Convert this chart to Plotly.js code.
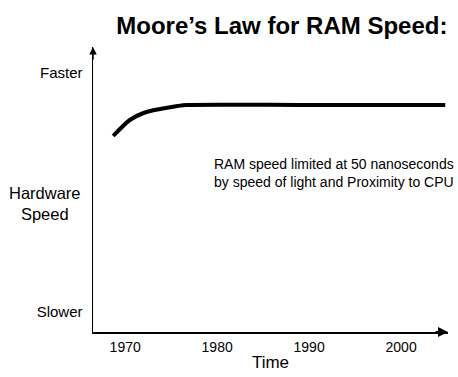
<!DOCTYPE html>
<html><head><meta charset="utf-8">
<script src="https://cdn.plot.ly/plotly-3.0.1.min.js"></script>
<style>html,body{margin:0;padding:0;background:#fff}#chart{width:458px;height:377px}</style>
</head><body><div id="chart"></div>
<script>
// Data
const years = [1968.7, 1970.5, 1972.0, 1973.8, 1975.7, 1976.7, 1990, 2004.8];
const speed = [196, 212, 219, 223, 226, 227, 227, 227];
const xTickVals = [1970, 1980, 1990, 2000];
const xTickText = ['1970', '1980', '1990', '2000'];
const yTickVals = [20, 259];
const yTickText = ['Slower', 'Faster'];
const titleText = 'Moore’s Law for RAM Speed:';
const noteText = 'RAM speed limited at 50 nanoseconds<br>by speed of light and Proximity to CPU';

const FONT = 'Liberation Sans, Arial, sans-serif';

const trace = {
  x: years, y: speed, type: 'scatter', mode: 'lines',
  line: {color: '#000', width: 4, shape: 'spline', smoothing: 0.8},
  hoverinfo: 'skip'
};

const layout = {
  width: 458, height: 377,
  margin: {l: 93, r: 10, t: 47, b: 45},
  paper_bgcolor: '#fff', plot_bgcolor: '#fff',
  showlegend: false,
  font: {family: FONT, color: '#000'},
  title: {
    text: '<b>' + titleText + '</b>',
    font: {family: FONT, size: 24, color: '#000'},
    xref: 'paper', x: 0.532, xanchor: 'center',
    yref: 'container', y: 0.932, yanchor: 'middle'
  },
  xaxis: {
    range: [1966.5, 2005.1],
    showgrid: false, zeroline: false,
    showline: true, linecolor: '#000', linewidth: 2,
    tickvals: xTickVals, ticktext: xTickText,
    ticks: '', ticklabelstandoff: 1,
    tickfont: {family: FONT, size: 14, color: '#000'},
    title: {text: 'Time', font: {family: FONT, size: 17, color: '#000'}, standoff: 2}
  },
  yaxis: {
    range: [0, 285],
    showgrid: false, zeroline: false,
    showline: true, linecolor: '#000', linewidth: 1.5,
    tickvals: yTickVals, ticktext: yTickText,
    ticks: '', ticklabelstandoff: 6,
    tickfont: {family: FONT, size: 15, color: '#000'}
  },
  annotations: [
    {xref: 'paper', yref: 'paper', x: -0.135, y: 0.45, text: 'Hardware<br>Speed',
     showarrow: false, xanchor: 'center', yanchor: 'middle', align: 'center',
     font: {family: FONT, size: 16.5, color: '#000'}},
    {xref: 'x', yref: 'y', x: 1979.4, y: 159.5, text: noteText,
     showarrow: false, xanchor: 'left', yanchor: 'middle', align: 'left',
     font: {family: FONT, size: 14, color: '#000'}},
    {xref: 'paper', yref: 'paper', x: 0, y: 1, ax: 0, ay: 14, text: '',
     showarrow: true, arrowhead: 2, arrowsize: 1, arrowwidth: 1.5, arrowcolor: '#000'},
    {xref: 'paper', yref: 'paper', x: 1, y: 0, ax: -14, ay: 0, text: '',
     showarrow: true, arrowhead: 2, arrowsize: 1, arrowwidth: 2, arrowcolor: '#000'}
  ]
};

Plotly.newPlot('chart', [trace], layout, {displayModeBar: false, staticPlot: true});
</script></body></html>
